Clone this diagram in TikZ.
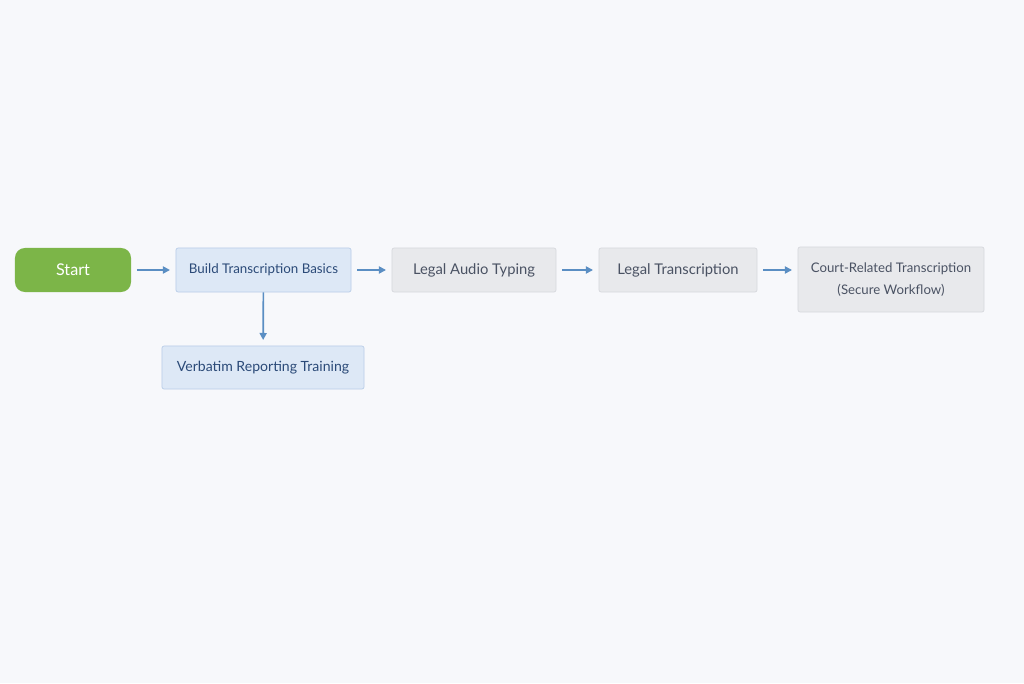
\documentclass[tikz,border=0pt]{standalone}
\usepackage{fontspec}
\setmainfont{Lato}
\usetikzlibrary{arrows.meta}
\definecolor{bgpage}{HTML}{F7F8FB}
\definecolor{startgreen}{HTML}{7CB548}
\definecolor{blueface}{HTML}{DDE8F6}
\definecolor{blueline}{HTML}{B9CDE8}
\definecolor{bluetext}{HTML}{2B4A78}
\definecolor{greyface}{HTML}{E8E9EC}
\definecolor{greyline}{HTML}{D6D8DD}
\definecolor{greytext}{HTML}{4A5263}
\definecolor{arrowblue}{HTML}{5A8EC3}
\tikzset{
  stepstart/.style={fill=startgreen,draw=none,rounded corners=7pt,text=white,font=\fontsize{11.5}{13}\selectfont,minimum height=1.1cm},
  stepblue/.style={fill=blueface,draw=blueline,line width=0.5pt,rounded corners=1.5pt,text=bluetext,font=\fontsize{9.5}{12}\selectfont,minimum height=1.1cm},
  stepgrey/.style={fill=greyface,draw=greyline,line width=0.5pt,rounded corners=1.5pt,text=greytext,font=\fontsize{10.5}{15}\selectfont,minimum height=1.1cm,align=center},
  flow/.style={draw=arrowblue,line width=1.2pt,-{Triangle[length=5pt,width=5pt]},shorten <=4pt,shorten >=4pt},
}
\begin{document}
\begin{tikzpicture}[x=0.025cm,y=-0.025cm]
  \fill[bgpage] (0,0) rectangle (1024,683);
  \useasboundingbox (0,0) rectangle (1024,683);

  \node[stepstart,minimum width=2.9cm] (start) at (73,270) {Start};
  \node[stepblue,minimum width=4.375cm] (basics) at (263.5,270) {Build Transcription Basics};
  \node[stepblue,minimum width=5.05cm,minimum height=1.075cm,font=\fontsize{10}{12}\selectfont] (verbatim) at (263,367.5) {Verbatim Reporting Training};
  \node[stepgrey,minimum width=4.1cm] (audio) at (474,270) {Legal Audio Typing};
  \node[stepgrey,minimum width=3.95cm] (legal) at (678,270) {Legal Transcription};
  \node[stepgrey,minimum width=4.65cm,minimum height=1.625cm,font=\fontsize{9.4}{16}\selectfont] (court) at (891,279.5) {Court-Related Transcription\\(Secure Workflow)};

  \draw[flow] (start) -- (basics);
  \draw[flow] (basics) -- (audio);
  \draw[flow] (audio) -- (legal);
  \draw[flow] (legal) -- (legal -| court.west);
  \draw[flow,shorten <=0pt] (basics) -- (verbatim);

\end{tikzpicture}
\end{document}
